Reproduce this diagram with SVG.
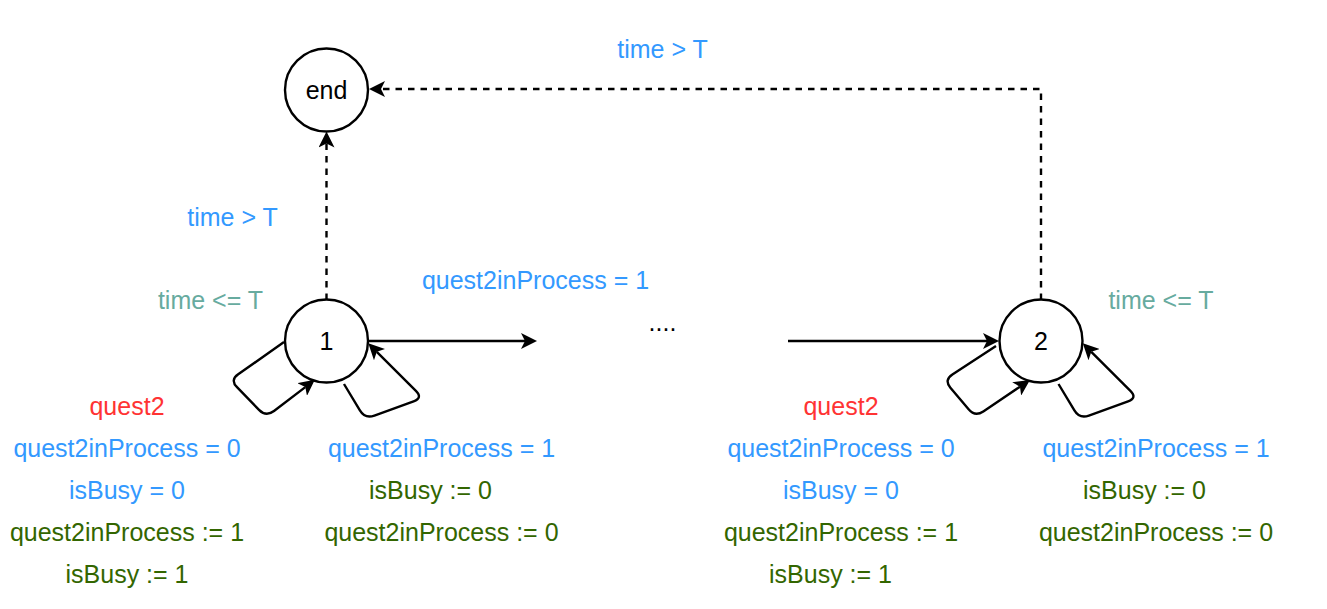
<svg xmlns="http://www.w3.org/2000/svg" width="1327" height="609" viewBox="0 0 1327 609">
<style>
  text { font-family: "Liberation Sans", Arial, sans-serif; font-size: 25px; text-anchor: middle; }
  .node { fill: #ffffff; stroke: #000000; stroke-width: 2.4; }
  .edge { fill: none; stroke: #000000; stroke-width: 2.4; stroke-linejoin: round; }
  .dash { stroke-dasharray: 6.5 6; stroke-linejoin: miter; }
  .blue { fill: #3399FF; }
  .green { fill: #336600; }
  .red { fill: #FF3333; }
  .teal { fill: #67AB9F; }
  .black { fill: #000000; }
</style>
<defs>
  <marker id="arrow" markerUnits="userSpaceOnUse" viewBox="0 -8 16 16" markerWidth="16" markerHeight="16" refX="4" refY="0" orient="auto">
    <path d="M0,-8 L16,0 L0,8 L4,0 Z" fill="#000000"/>
  </marker>
</defs>
<rect x="0" y="0" width="1327" height="609" fill="#ffffff"/>

<g id="connectors">
  <path class="edge dash" d="M 326.5 300 L 326.5 143.5" marker-end="url(#arrow)"/>
  <path class="edge dash" d="M 1041 300 L 1041 89 L 381 89" marker-end="url(#arrow)"/>
  <path class="edge" d="M 368 341 L 525 341" marker-end="url(#arrow)"/>
  <path class="edge" d="M 788 341 L 987 341" marker-end="url(#arrow)"/>
  <path class="edge" d="M 284 342 L 238.2 374.3 Q 230 380 237 387.2 L 259 409.8 Q 266 417 274 411 L 305.3 387.1" marker-end="url(#arrow)"/>
  <path class="edge" d="M 344 384 L 359.9 410.4 Q 365 419 374.4 415.6 L 413.6 401.4 Q 423 398 415.9 390.9 L 376.8 351.8" marker-end="url(#arrow)"/>
  <path class="edge" d="M 996 346 L 952.4 374.5 Q 944 380 950.4 387.7 L 968.6 409.3 Q 975 417 983.3 411.4 L 1020 386.7" marker-end="url(#arrow)"/>
  <path class="edge" d="M 1058.5 384 L 1074.4 410.4 Q 1079.5 419 1088.9 415.6 L 1128.1 401.4 Q 1137.5 398 1130.4 390.9 L 1091.3 351.8" marker-end="url(#arrow)"/>
</g>

<g id="node-end">
  <circle class="node" cx="326.5" cy="90" r="41.5"/>
  <text class="black" x="326.5" y="99">end</text>
</g>
<g id="node-1">
  <circle class="node" cx="326.5" cy="341" r="41.5"/>
  <text class="black" x="326.5" y="350">1</text>
</g>
<g id="node-2">
  <circle class="node" cx="1041" cy="341" r="41.5"/>
  <text class="black" x="1041" y="350">2</text>
</g>
<g id="node-dots">
  <text class="black" x="662.5" y="331">....</text>
</g>

<g id="labels">
  <text class="blue" x="662.5" y="57.5">time &gt; T</text>
  <text class="blue" x="232.5" y="225.5">time &gt; T</text>
  <text class="teal" x="210.5" y="309">time &lt;= T</text>
  <text class="teal" x="1161" y="309">time &lt;= T</text>
  <text class="blue" x="535.5" y="289">quest2inProcess = 1</text>

  <text class="red" x="127" y="415">quest2</text>
  <text class="blue" x="127" y="457">quest2inProcess = 0</text>
  <text class="blue" x="127" y="499">isBusy = 0</text>
  <text class="green" x="127" y="541">quest2inProcess := 1</text>
  <text class="green" x="127" y="583">isBusy := 1</text>

  <text class="blue" x="441.5" y="457">quest2inProcess = 1</text>
  <text class="green" x="430.5" y="499">isBusy := 0</text>
  <text class="green" x="441.5" y="541">quest2inProcess := 0</text>

  <text class="red" x="841" y="415">quest2</text>
  <text class="blue" x="841" y="457">quest2inProcess = 0</text>
  <text class="blue" x="841" y="499">isBusy = 0</text>
  <text class="green" x="841" y="541">quest2inProcess := 1</text>
  <text class="green" x="830.5" y="583">isBusy := 1</text>

  <text class="blue" x="1156" y="457">quest2inProcess = 1</text>
  <text class="green" x="1144.5" y="499">isBusy := 0</text>
  <text class="green" x="1156" y="541">quest2inProcess := 0</text>
</g>
</svg>
